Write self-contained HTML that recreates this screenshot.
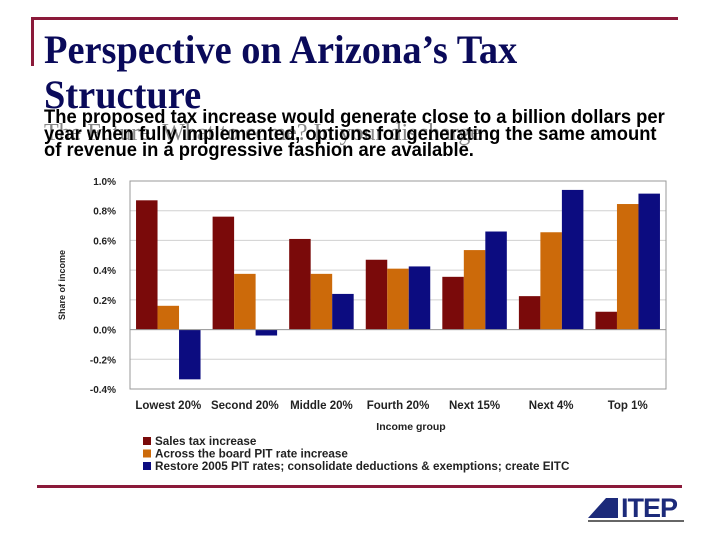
<!DOCTYPE html>
<html><head><meta charset="utf-8"><style>
body{margin:0;width:720px;height:540px;background:#fff;overflow:hidden;position:relative;font-family:"Liberation Sans",sans-serif}
.a{position:absolute}
</style></head><body>
<div class="a" style="left:31px;top:17px;width:647px;height:3px;background:#8b1a3a"></div>
<div class="a" style="left:31px;top:17px;width:3px;height:49px;background:#8b1a3a"></div>
<div class="a" style="left:44px;top:27px;font:bold 40px 'Liberation Serif',serif;color:#0a0a5a;line-height:45px;transform:scaleX(0.96);transform-origin:left">Perspective on Arizona’s Tax<br>Structure</div>
<div class="a" style="left:44px;top:120px;font:24px 'Liberation Serif',serif;color:#888">The Future: What to come? In your discharge</div>
<div class="a" style="left:44px;top:110px;font:bold 19px 'Liberation Sans',sans-serif;color:#000;line-height:16.5px;transform:scaleX(0.967);transform-origin:left">The proposed tax increase would generate close to a billion dollars per<br>year when fully implemented, options for generating the same amount<br>of revenue in a progressive fashion are available.</div>
<svg class="a" style="left:0;top:0" width="720" height="540" id="chart"></svg>
<div class="a" style="left:37px;top:485px;width:645px;height:3px;background:#8b1a3a"></div>
<div class="a" style="left:588px;top:495px;width:100px;height:30px">
<div class="a" style="left:0;top:3px;width:30px;height:20px;background:#1c2a7a;clip-path:polygon(0 100%,60% 0,100% 0,100% 100%)"></div>
<div class="a" style="left:33px;top:-2px;font:900 27px 'Liberation Sans',sans-serif;color:#1c2a7a;letter-spacing:-1px">ITEP</div>
<div class="a" style="left:0;top:25px;width:96px;height:2px;background:#666"></div>
</div>
<script>
const categories=["Lowest 20%","Second 20%","Middle 20%","Fourth 20%","Next 15%","Next 4%","Top 1%"];
const salesTax=[0.87,0.76,0.61,0.47,0.355,0.225,0.12];
const acrossBoard=[0.16,0.375,0.375,0.41,0.535,0.655,0.845];
const restore2005=[-0.335,-0.04,0.24,0.425,0.66,0.94,0.915];
const yTicks=[1.0,0.8,0.6,0.4,0.2,0.0,-0.2,-0.4];
const seriesNames=["Sales tax increase","Across the board PIT rate increase","Restore 2005 PIT rates; consolidate deductions & exemptions; create EITC"];
const colors=["#7a0a0a","#cc6a0a","#0c0c80"];
const svg=document.getElementById('chart');const NS='http://www.w3.org/2000/svg';
const L=130,R=666,T=181,B=389,yMin=-0.4,yMax=1.0;
const y=v=>T+(yMax-v)/(yMax-yMin)*(B-T);
const gw=(R-L)/categories.length;const bw=21.5;
function mk(t,a,txt){const e=document.createElementNS(NS,t);for(const k in a)e.setAttribute(k,a[k]);if(txt!=null)e.textContent=txt;svg.appendChild(e);return e;}
yTicks.forEach(v=>{const g=mk('line',{x1:L,x2:R,y1:y(v),y2:y(v),stroke:'#d0d0d0','stroke-width':1});


const t=mk('text',{x:L-14,y:y(v)+4,'text-anchor':'end','font-size':'10','font-weight':'bold',fill:'#222','font-family':'Liberation Sans'},v.toFixed(1)+'%');

});
const fr=mk('rect',{x:L,y:T,width:R-L,height:B-T,fill:'none',stroke:'#999','stroke-width':1});


[salesTax,acrossBoard,restore2005].forEach((s,si)=>{s.forEach((v,i)=>{const x=L+i*gw+(gw-3*bw)/2+si*bw;
const r=mk('rect',{x:x,y:Math.min(y(v),y(0)),width:bw,height:Math.abs(y(v)-y(0)),fill:colors[si]});

});});
const z=mk('line',{x1:L,x2:R,y1:y(0),y2:y(0),stroke:'#999'});


categories.forEach((c,i)=>{const t=mk('text',{x:L+(i+0.5)*gw,y:409,'text-anchor':'middle','font-size':'11.5','font-weight':'bold',fill:'#222','font-family':'Liberation Sans'},c);

});
const xt=mk('text',{x:411,y:430,'text-anchor':'middle','font-size':'10.5','font-weight':'bold',fill:'#222','font-family':'Liberation Sans'},'Income group');


const yt=mk('text',{x:0,y:0,'text-anchor':'middle','font-size':'9','font-weight':'bold',fill:'#222','font-family':'Liberation Sans',transform:'translate(65,285) rotate(-90)'},'Share of income');


seriesNames.forEach((n,i)=>{const yy=445+i*12.5;
const sq=mk('rect',{x:143,y:yy-8,width:8,height:8,fill:colors[i]});


const t=mk('text',{x:155,y:yy,'font-size':'11.7','font-weight':'bold',fill:'#222','font-family':'Liberation Sans'},n);

});
</script>
</body></html>
